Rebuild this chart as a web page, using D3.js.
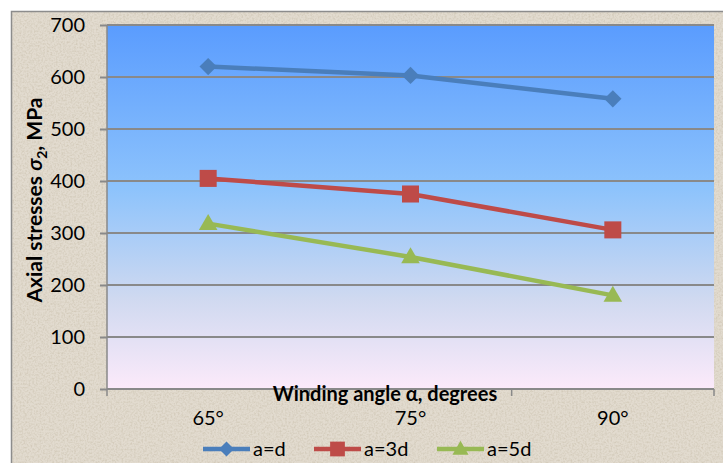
<!DOCTYPE html>
<html>
<head>
<meta charset="utf-8">
<script src="https://cdn.jsdelivr.net/npm/d3@7/dist/d3.min.js"></script>
<style>
  html, body { margin: 0; padding: 0; background: #fff; }
  svg { display: block; }
  text { font-family: Lato, "Open Sans", sans-serif; fill: #000; }
</style>
</head>
<body>
<svg id="chart" width="723" height="463"></svg>
<script>
// Winding angle categories and axial stress series (MPa)
const categories = ["65°", "75°", "90°"];
const seriesNames = ["a=d", "a=3d", "a=5d"];
const seriesD  = [620, 603, 558];
const series3D = [405, 375, 306];
const series5D = [318, 254, 180];
const yTicks = [0, 100, 200, 300, 400, 500, 600, 700];

const colors = ["#4A7EBB", "#BE4B48", "#98B954"];
const series = [seriesD, series3D, series5D];

const svg = d3.select("#chart");
const W = 723, H = 463;
const plot = { left: 107, right: 714, top: 25, bottom: 389 };

// marker shapes: diamond (rotated square), square, triangle
const markerPath = (s, k) => {
  if (s === 0) return d3.symbol().type(d3.symbolSquare).size(150 * k)();
  if (s === 1) return d3.symbol().type(d3.symbolSquare).size(290 * k)();
  return d3.symbol().type(d3.symbolTriangle).size(150 * k)();
};
const markerRot = s => (s === 0 ? " rotate(45)" : "");

const defs = svg.append("defs");

// paper-like speckled backdrop
const tex = defs.append("filter").attr("id", "paper").attr("x", 0).attr("y", 0).attr("width", 1).attr("height", 1);
tex.append("feTurbulence").attr("type", "fractalNoise").attr("baseFrequency", 0.55).attr("numOctaves", 2).attr("seed", 7).attr("result", "noise");
tex.append("feColorMatrix").attr("in", "noise").attr("type", "matrix")
  .attr("values", "0 0 0 0 0.86  0 0 0 0 0.84  0 0 0 0 0.79  0 0 0 -2.2 1.35").attr("result", "spots");
tex.append("feFlood").attr("flood-color", "#E2DBCF").attr("result", "base");
tex.append("feBlend").attr("in", "spots").attr("in2", "base").attr("mode", "multiply");

const grad = defs.append("linearGradient").attr("id", "plotFill")
  .attr("x1", 0).attr("y1", 0).attr("x2", 0).attr("y2", 1);
grad.append("stop").attr("offset", "0%").attr("stop-color", "#5A9CFE");
grad.append("stop").attr("offset", "45%").attr("stop-color", "#8DC3FC");
grad.append("stop").attr("offset", "75%").attr("stop-color", "#CFD9F0");
grad.append("stop").attr("offset", "100%").attr("stop-color", "#FCEAFA");

// chart area
svg.append("rect").attr("x", 11).attr("y", 11).attr("width", W - 11).attr("height", H - 11)
  .attr("fill", "#E2DBCF").attr("filter", "url(#paper)");
svg.append("path").attr("d", `M11.5,${H} V11.5 H${W}`).attr("fill", "none").attr("stroke", "#8C8C8C").attr("stroke-width", 1.5);

// plot area
svg.append("rect").attr("x", plot.left).attr("y", plot.top)
  .attr("width", plot.right - plot.left).attr("height", plot.bottom - plot.top)
  .attr("fill", "url(#plotFill)");

const x = d3.scaleBand().domain(categories).range([plot.left, plot.right]);
const y = d3.scaleLinear().domain([0, 700]).range([plot.bottom, plot.top]);
const cx = c => x(c) + x.bandwidth() / 2;

// horizontal gridlines
svg.append("g").selectAll("line").data(yTicks.filter(t => t > 0)).join("line")
  .attr("x1", plot.left).attr("x2", plot.right)
  .attr("y1", d => y(d)).attr("y2", d => y(d))
  .attr("stroke", "#898989").attr("stroke-width", 2);

// y axis
const yAxis = svg.append("g").attr("transform", `translate(${plot.left},0)`)
  .call(d3.axisLeft(y).tickValues(yTicks).tickSize(7).tickPadding(15));
yAxis.select(".domain").attr("stroke", "#898989").attr("stroke-width", 1.5).attr("d", `M0,${plot.top}V${plot.bottom}`);
yAxis.selectAll(".tick line").attr("stroke", "#898989").attr("stroke-width", 2);
yAxis.selectAll(".tick text").style("font-size", "20px").style("font-family", "Lato, sans-serif").attr("fill", "#000");

// x axis
const xAxis = svg.append("g").attr("transform", `translate(0,${plot.bottom})`)
  .call(d3.axisBottom(x).tickSize(0));
xAxis.select(".domain").attr("stroke", "#898989").attr("stroke-width", 2).attr("d", `M${plot.left},0H${plot.right}`);
xAxis.selectAll(".tick text").attr("y", 36).attr("dy", 0)
  .style("font-size", "20px").style("font-family", "Lato, sans-serif").attr("fill", "#000");
// category boundary ticks
const bounds = categories.map(c => x(c)).concat([plot.right]);
xAxis.append("g").selectAll("line").data(bounds).join("line")
  .attr("x1", d => d).attr("x2", d => d).attr("y1", 0).attr("y2", 7)
  .attr("stroke", "#898989").attr("stroke-width", 1.5);

// axis titles
svg.append("text").attr("x", 385).attr("y", 401).attr("text-anchor", "middle")
  .style("font-size", "20px").style("font-weight", "bold").text("Winding angle α, degrees");

const yt = svg.append("text").attr("transform", "translate(42,200) rotate(-90)")
  .attr("text-anchor", "middle").style("font-size", "21px").style("font-weight", "bold");
yt.append("tspan").text("Axial stresses ");
yt.append("tspan").style("font-style", "italic").text("σ");
yt.append("tspan").attr("dy", 5).style("font-size", "14px").text("2");
yt.append("tspan").attr("dy", -5).text(", MPa");

// series lines and markers
const line = d3.line().x((d, i) => cx(categories[i])).y(d => y(d));
series.forEach((vals, s) => {
  svg.append("path").datum(vals).attr("d", line)
    .attr("fill", "none").attr("stroke", colors[s]).attr("stroke-width", 4.5).attr("stroke-linejoin", "round");
  svg.append("g").selectAll("path").data(vals).join("path")
    .attr("d", markerPath(s, 1))
    .attr("transform", (d, i) => `translate(${cx(categories[i])},${y(d) + (s === 2 ? 1 : 0)})${markerRot(s)}`)
    .attr("fill", colors[s]);
});

// legend
const legendX = [203, 314, 437];
seriesNames.forEach((name, s) => {
  const g = svg.append("g").attr("transform", `translate(${legendX[s]},449)`);
  g.append("line").attr("x1", 0).attr("x2", 47).attr("stroke", colors[s]).attr("stroke-width", 4.5);
  g.append("path").attr("d", markerPath(s, 0.75))
    .attr("transform", `translate(23.5,${s === 2 ? 1 : 0})${markerRot(s)}`).attr("fill", colors[s]);
  g.append("text").attr("x", 50).attr("y", 7).style("font-size", "20px").text(name);
});
</script>
</body>
</html>
